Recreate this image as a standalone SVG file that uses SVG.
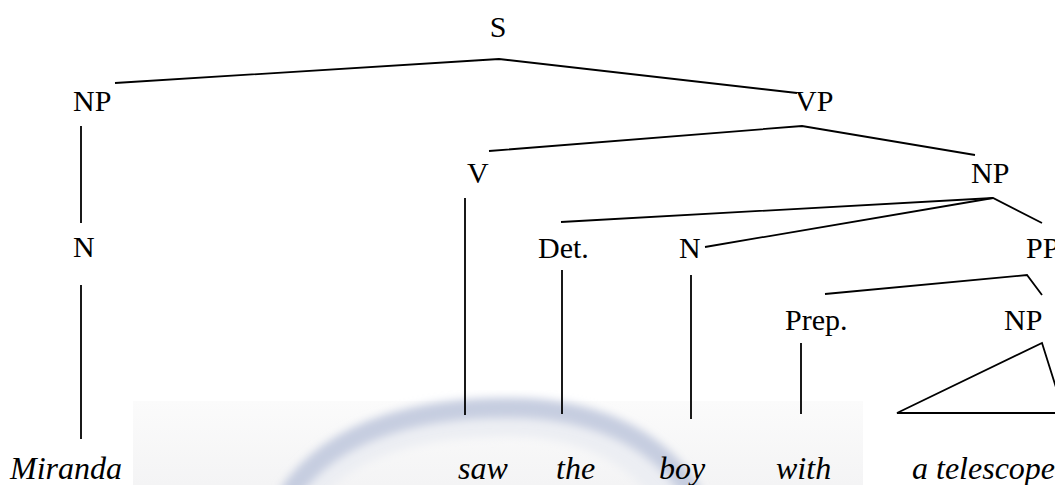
<svg xmlns="http://www.w3.org/2000/svg" width="1055" height="485" viewBox="0 0 1055 485">
<style>
.lbl{font-family:"Liberation Serif","Times New Roman",serif;font-size:30px;fill:#000}
.leaf{font-family:"Liberation Serif","Times New Roman",serif;font-size:32px;font-style:italic;fill:#000}
.edge{stroke:#000;stroke-width:1.8;fill:none;stroke-linejoin:miter}
</style>
<defs>
<filter id="blur" x="-20%" y="-20%" width="140%" height="140%"><feGaussianBlur stdDeviation="4"/></filter>
<linearGradient id="bg" x1="0" y1="0" x2="0" y2="1"><stop offset="0" stop-color="#fbfbfb"/><stop offset="1" stop-color="#f4f4f5"/></linearGradient>
</defs>
<rect width="1055" height="485" fill="#fff"/>
<g id="watermark">
<rect x="133" y="401" width="730" height="84" fill="url(#bg)"/>
<path d="M300 500 C 350 432, 440 420, 525 422 C 590 426, 640 452, 672 500" stroke="#eceef3" stroke-width="30" fill="none" filter="url(#blur)"/>
<path d="M288 495 C 335 425, 430 405, 525 408 C 600 412, 660 440, 693 495" stroke="#c6cde0" stroke-width="20" fill="none" filter="url(#blur)"/>
</g>
<g id="connectors">
<polyline class="edge" points="115,83 499,59 797,93"/>
<line class="edge" x1="81" y1="126" x2="81" y2="223"/>
<line class="edge" x1="81" y1="285" x2="81" y2="439"/>
<polyline class="edge" points="489,151 802,126 975,155"/>
<line class="edge" x1="465" y1="198" x2="465" y2="415"/>
<polyline class="edge" points="561,222 993,198 1042,223"/>
<line class="edge" x1="705" y1="247" x2="993" y2="198"/>
<line class="edge" x1="562" y1="270" x2="562" y2="414"/>
<line class="edge" x1="691" y1="275" x2="691" y2="419"/>
<polyline class="edge" points="825,294 1027,275 1042,295"/>
<line class="edge" x1="801" y1="343" x2="801" y2="414"/>
<polyline class="edge" points="1064,413 897,413 1042,343 1064,413"/>
</g>
<g id="n-S"><text class="lbl" x="498" y="37" text-anchor="middle">S</text></g>
<g id="n-NP1"><text class="lbl" x="73" y="111">NP</text></g>
<g id="n-VP"><text class="lbl" x="795" y="111">VP</text></g>
<g id="n-N1"><text class="lbl" x="73" y="257">N</text></g>
<g id="n-V"><text class="lbl" x="467" y="183">V</text></g>
<g id="n-NP2"><text class="lbl" x="971" y="183">NP</text></g>
<g id="n-Det"><text class="lbl" x="538" y="258">Det.</text></g>
<g id="n-N2"><text class="lbl" x="679" y="258">N</text></g>
<g id="n-PP"><text class="lbl" x="1026" y="258">PP</text></g>
<g id="n-Prep"><text class="lbl" x="785" y="330">Prep.</text></g>
<g id="n-NP3"><text class="lbl" x="1004" y="330">NP</text></g>
<g id="leaves">
<text class="leaf" x="10" y="479">Miranda</text>
<text class="leaf" x="458" y="479">saw</text>
<text class="leaf" x="556" y="479">the</text>
<text class="leaf" x="659" y="479">boy</text>
<text class="leaf" x="776" y="479">with</text>
<text class="leaf" x="912" y="479">a telescope</text>
</g>
</svg>
